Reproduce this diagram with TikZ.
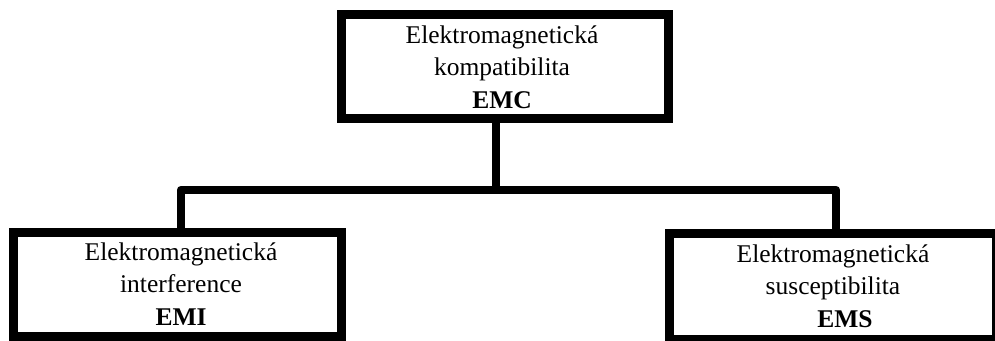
\documentclass[tikz,border=0pt]{standalone}
\usepackage{fontspec}
\setmainfont{Liberation Serif}
\begin{document}
\begin{tikzpicture}[x=1pt,y=-1pt,
  box/.style={draw=black,line width=9pt,inner sep=0pt,fill=white},
  lbl/.style={align=center,font=\fontsize{25.5}{32.5}\selectfont,inner sep=0pt,anchor=base},
  link/.style={draw=black,line width=8.5pt,line join=round}]
\useasboundingbox (0,0) rectangle (995,340);
\fill[white] (0,0) rectangle (995,340);

% the three boxes
\node[box,minimum width=327pt,minimum height=104pt] (emc) at (505,66) {};
\node[box,minimum width=328pt,minimum height=103.5pt] (emi) at (177.5,284.25) {};
\node[box,minimum width=327pt,minimum height=106pt] (ems) at (833,286.5) {};

% tree connectors
\coordinate (hub) at (496,190);
\draw[link] (emc.south -| hub) -- (hub);
\draw[link] ([xshift=3.5pt]emi.north) |- (hub) -| ([xshift=3pt]ems.north);

% box captions (anchored at the baseline of the last line)
\node[lbl] (emc-t) at (502,108) {Elektromagnetická\\kompatibilita\\\textbf{EMC}};
\node[lbl] (emi-t) at (181,325) {Elektromagnetická\\interference\\\textbf{EMI}};
\node[lbl] (ems-t) at (833,327) {Elektromagnetická\\susceptibilita\\\hspace*{24pt}\textbf{EMS}};
\end{tikzpicture}
\end{document}
